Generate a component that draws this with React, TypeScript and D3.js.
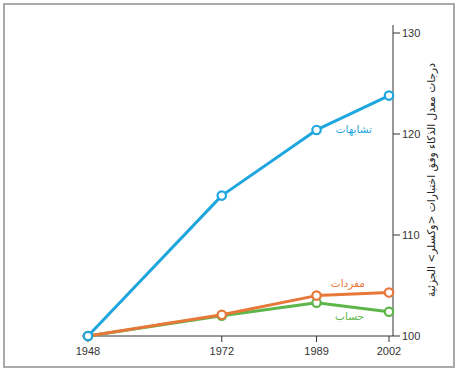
import React, { useEffect, useRef } from 'react';
import * as d3 from 'd3';

const years = [1948, 1972, 1989, 2002];
const yTicks = [100, 110, 120, 130];
const similarities = [100, 113.9, 120.4, 123.8];
const vocabulary = [100, 102.1, 104.0, 104.3];
const arithmetic = [100, 102.0, 103.3, 102.4];
const seriesNames = ['حساب', 'مفردات', 'تشابهات'];
const yTitle = 'درجات معدل الذكاء وفق اختبارات <وكسلر> الجزئية';

const W = 458;
const H = 370;

const ChartCore: React.FC = () => {
    const ref = useRef<SVGSVGElement>(null);

    useEffect(() => {
        if (!ref.current) return;
        const svg = d3.select(ref.current);
        svg.selectAll('*').remove();

        const x = d3.scaleLinear().domain([1948, 2002]).range([88, 389]);
        const y = d3.scaleLinear().domain([100, 130]).range([336, 33]);
        const numFont = '"Liberation Sans Narrow", "Liberation Sans", sans-serif';

        // outer frame
        svg.append('rect')
            .attr('x', 4).attr('y', 4).attr('width', 450).attr('height', 363)
            .attr('fill', 'white').attr('stroke', '#a9a9a9').attr('stroke-width', 2);

        // right axis
        const axisX = 393;
        svg.append('line')
            .attr('x1', axisX).attr('x2', axisX).attr('y1', 25).attr('y2', y(100))
            .attr('stroke', '#333').attr('stroke-width', 1);
        const yt = svg.append('g');
        yTicks.forEach(t => {
            yt.append('line')
                .attr('x1', axisX).attr('x2', axisX + 7).attr('y1', y(t)).attr('y2', y(t))
                .attr('stroke', '#333');
            yt.append('text')
                .attr('x', axisX + 9).attr('y', y(t)).attr('dy', '0.35em')
                .attr('font-family', numFont).attr('font-size', 11).attr('fill', '#333')
                .text(t);
        });

        // bottom axis
        svg.append('line')
            .attr('x1', 82).attr('x2', axisX).attr('y1', y(100)).attr('y2', y(100))
            .attr('stroke', '#333').attr('stroke-width', 1);
        const xt = svg.append('g');
        years.forEach(yr => {
            xt.append('line')
                .attr('x1', x(yr)).attr('x2', x(yr)).attr('y1', y(100)).attr('y2', y(100) + 6)
                .attr('stroke', '#333');
            xt.append('text')
                .attr('x', x(yr)).attr('y', y(100) + 19)
                .attr('text-anchor', 'middle')
                .attr('font-family', numFont).attr('font-size', 11).attr('fill', '#333')
                .text(yr);
        });

        // y title
        svg.append('text')
            .attr('transform', `translate(431,180) rotate(-90)`)
            .attr('text-anchor', 'middle').attr('dy', '0.35em')
            .attr('font-family', '"DejaVu Sans", sans-serif').attr('font-size', 11)
            .attr('fill', '#222')
            .attr('textLength', 234).attr('lengthAdjust', 'spacingAndGlyphs')
            .attr('direction', 'rtl')
            .text(yTitle);

        const series = [
            { name: seriesNames[0], values: arithmetic, color: '#5cb64a', lx: 364, ly: 316 },
            { name: seriesNames[1], values: vocabulary, color: '#e8773a', lx: 365, ly: 283 },
            { name: seriesNames[2], values: similarities, color: '#1fa6de', lx: 372, ly: 129 },
        ];

        const line = d3.line<number>()
            .x((_, i) => x(years[i]))
            .y(d => y(d));

        series.forEach(s => {
            const g = svg.append('g');
            g.append('path')
                .attr('d', line(s.values))
                .attr('fill', 'none').attr('stroke', s.color).attr('stroke-width', 3)
                .attr('stroke-linejoin', 'round');
            g.selectAll('circle')
                .data(s.values)
                .join('circle')
                .attr('cx', (_, i) => x(years[i]))
                .attr('cy', d => y(d))
                .attr('r', 4.2)
                .attr('fill', 'white').attr('stroke', s.color).attr('stroke-width', 2.2);
            g.append('text')
                .attr('x', s.lx).attr('y', s.ly).attr('dy', '0.35em')
                .attr('text-anchor', 'end')
                .attr('font-family', '"DejaVu Sans", sans-serif').attr('font-size', 10.5)
                .attr('fill', s.color)
                .text(s.name);
        });
    }, []);

    return <svg ref={ref} width={W} height={H} style={{ position: 'absolute', left: 0, top: 0 }} />;
};

export default function App() {
    return <ChartCore />;
}
